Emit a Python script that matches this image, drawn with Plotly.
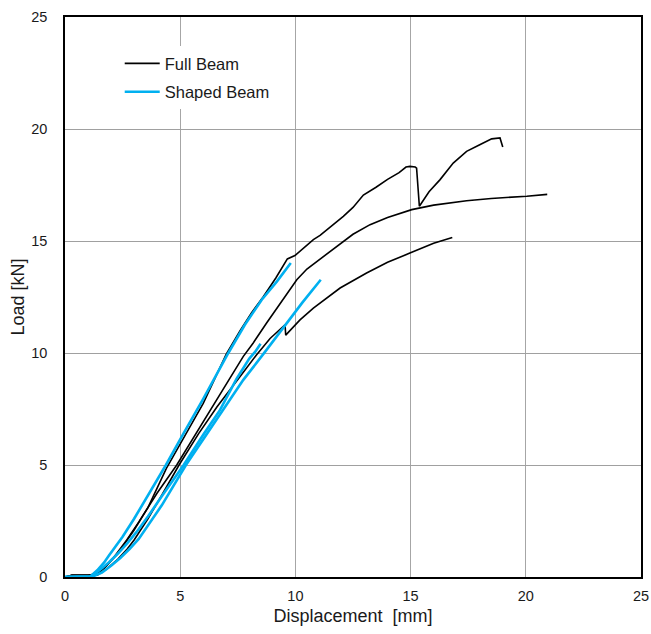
import plotly.graph_objects as go

# ---- Full Beam specimens (black) ----
full1_x = [0, 0.3, 1.0, 1.4, 1.8, 2.2, 2.6, 3.0, 3.6, 4.4, 5.2, 6.0, 7.0, 7.6, 8.1, 8.6, 9.15, 9.65,
           9.98, 10.2, 10.78, 11.07, 11.5, 12.08, 12.5, 12.95, 13.5, 14.0, 14.5, 14.8, 14.97, 15.2,
           15.26, 15.38, 15.8, 16.28, 16.85, 17.43, 18.0, 18.52, 18.88, 19.0]
full1_y = [0, 0.08, 0.08, 0.15, 0.5, 0.95, 1.5, 2.1, 3.1, 4.85, 6.3, 7.75, 9.95, 11.0, 11.8, 12.5, 13.35, 14.2,
           14.35, 14.54, 15.06, 15.25, 15.6, 16.1, 16.5, 17.05, 17.4, 17.75, 18.05, 18.3, 18.33, 18.3,
           18.25, 16.55, 17.2, 17.74, 18.48, 19.0, 19.3, 19.56, 19.6, 19.2]

full2_x = [0, 0.3, 1.3, 1.7, 2.1, 2.68, 3.2, 4.0, 4.85, 5.7, 6.3, 7.16, 7.74, 8.17, 8.75, 9.2, 9.62,
           10.06, 10.5, 11.07, 11.5, 12.08, 12.5, 13.24, 14.0, 15.05, 16.0, 17.43, 18.5, 20.04, 20.93]
full2_y = [0, 0.08, 0.08, 0.4, 0.85, 1.65, 2.45, 3.75, 5.0, 6.45, 7.45, 8.88, 9.85, 10.45, 11.34, 12.0, 12.62,
           13.27, 13.75, 14.2, 14.55, 15.0, 15.3, 15.73, 16.05, 16.4, 16.6, 16.8, 16.9, 17.0, 17.08]

full3_x = [0, 0.3, 1.4, 1.8, 2.3, 2.7, 3.0, 3.6, 4.2, 4.95, 5.8, 6.6, 7.6, 8.3, 8.9, 9.3, 9.55,
           9.58, 10.2, 10.78, 11.65, 11.94, 13.09, 14.0, 14.97, 16.0, 16.81]
full3_y = [0, 0.08, 0.08, 0.35, 0.8, 1.25, 1.65, 2.6, 3.65, 5.0, 6.4, 7.6, 8.95, 9.9, 10.65, 11.0, 11.26,
           10.8, 11.48, 12.0, 12.68, 12.9, 13.57, 14.05, 14.46, 14.9, 15.16]

# ---- Shaped Beam specimens (blue) ----
shaped1_x = [0, 1.1, 1.4, 1.7, 1.9, 2.2, 2.5, 3.0, 3.5, 4.38, 5.14, 6.0, 7.09, 7.8, 8.54, 9.2, 9.8]
shaped1_y = [0, 0.02, 0.3, 0.65, 0.95, 1.35, 1.8, 2.6, 3.45, 5.0, 6.4, 7.95, 10.0, 11.25, 12.38, 13.2, 14.02]

shaped2_x = [0, 1.2, 1.6, 2.0, 2.4, 2.8, 3.2, 4.2, 5.25, 6.0, 6.9, 7.74, 8.68, 9.55, 10.3, 11.1]
shaped2_y = [0, 0.02, 0.2, 0.5, 0.85, 1.25, 1.7, 3.2, 5.0, 6.15, 7.5, 8.8, 10.05, 11.25, 12.25, 13.27]

shaped3_x = [0, 1.1, 1.5, 1.9, 2.3, 2.7, 3.1, 3.6, 4.2, 5.15, 6.0, 6.73, 7.45, 8.0, 8.25, 8.49]
shaped3_y = [0, 0.02, 0.3, 0.65, 1.05, 1.5, 2.0, 2.7, 3.6, 5.0, 6.35, 7.46, 8.85, 9.75, 10.05, 10.41]

ticks = [0, 5, 10, 15, 20, 25]

BLACK = "#000000"
BLUE = "#00b0f0"
TEXT = "#1a1a1a"
FONT = "Arial, Liberation Sans, sans-serif"

fig = go.Figure()

full_sets = [(full1_x, full1_y), (full2_x, full2_y), (full3_x, full3_y)]
for i, (xs, ys) in enumerate(full_sets):
    fig.add_trace(go.Scatter(x=xs, y=ys, mode="lines", name="Full Beam",
                             line=dict(color=BLACK, width=1.6),
                             legendgroup="full", showlegend=(i == 0)))

shaped_sets = [(shaped1_x, shaped1_y), (shaped2_x, shaped2_y), (shaped3_x, shaped3_y)]
for i, (xs, ys) in enumerate(shaped_sets):
    fig.add_trace(go.Scatter(x=xs, y=ys, mode="lines", name="Shaped Beam",
                             line=dict(color=BLUE, width=2.6),
                             legendgroup="shaped", showlegend=(i == 0)))

fig.update_layout(
    width=651, height=634,
    margin=dict(l=65, r=10, t=17, b=57),
    paper_bgcolor="white", plot_bgcolor="white",
    font=dict(family=FONT, size=16, color=TEXT),
    legend=dict(x=0.095, y=0.948, xanchor="left", yanchor="top",
                bgcolor="rgba(255,255,255,1)", font=dict(size=16.5, color=TEXT),
                tracegroupgap=4, traceorder="grouped", itemwidth=35),
    xaxis=dict(range=[0, 25], tickvals=ticks, ticks="", showgrid=True,
               gridcolor="#a6a6a6", gridwidth=1, zeroline=False, automargin=False,
               showline=True, linecolor=BLACK, linewidth=1.6, mirror=True,
               ticklabelstandoff=5,
               title=dict(text="Displacement  [mm]", font=dict(size=18), standoff=6),
               tickfont=dict(size=14.5)),
    yaxis=dict(range=[0, 25], tickvals=ticks, ticks="", showgrid=True,
               gridcolor="#a0a0a0", gridwidth=1, zeroline=False, automargin=False,
               showline=True, linecolor=BLACK, linewidth=1.6, mirror=True,
               ticklabelstandoff=13,
               title=dict(text="Load [kN]", font=dict(size=18), standoff=2),
               tickfont=dict(size=14.5)),
)

fig.write_html("out.html", config={"displayModeBar": False},
               post_script="document.body.style.margin='0px';")
